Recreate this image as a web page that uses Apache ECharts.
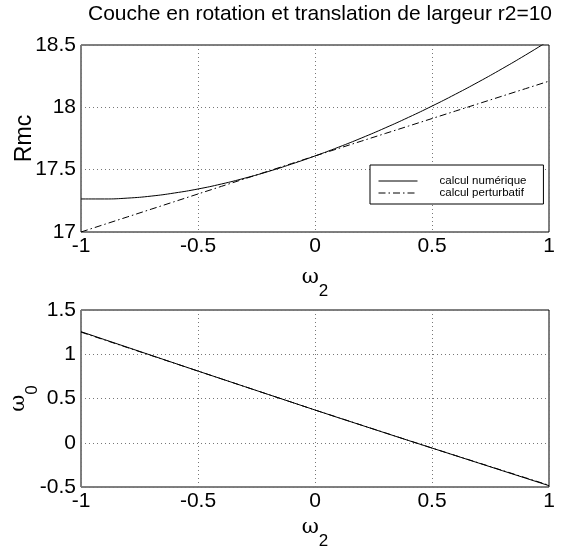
<!DOCTYPE html>
<html>
<head>
<meta charset="utf-8">
<script src="https://cdn.jsdelivr.net/npm/echarts@6/dist/echarts.min.js"></script>
<style>
	html, body { margin: 0; padding: 0; background: #fff; }
	#chart { width: 562px; height: 546px; }
</style>
</head>
<body>
<div id="chart"></div>
<script>
	// omega2 values (x axis, both plots)
	var w2 = [-1, -0.9, -0.8, -0.7, -0.6, -0.5, -0.4, -0.3, -0.2, -0.1, 0, 0.1, 0.2, 0.3, 0.4, 0.5, 0.6, 0.7, 0.8, 0.9, 1];
	// top plot: Rmc
	var rmcNum = [17.265, 17.265, 17.272, 17.288, 17.313, 17.345, 17.385, 17.432, 17.485, 17.545, 17.61, 17.68, 17.755, 17.835, 17.92, 18.01, 18.105, 18.205, 18.31, 18.42, 18.535];
	var rmcPert = [17.0, 17.061, 17.122, 17.183, 17.244, 17.305, 17.366, 17.427, 17.488, 17.549, 17.61, 17.67, 17.73, 17.79, 17.85, 17.91, 17.97, 18.03, 18.09, 18.15, 18.21];
	// bottom plot: omega0
	var w0Num = [1.255, 1.166, 1.077, 0.988, 0.899, 0.81, 0.722, 0.634, 0.546, 0.458, 0.37, 0.283, 0.197, 0.111, 0.025, -0.06, -0.145, -0.23, -0.315, -0.4, -0.485];
	var w0Pert = [1.25, 1.162, 1.074, 0.986, 0.898, 0.81, 0.722, 0.634, 0.546, 0.458, 0.37, 0.284, 0.198, 0.112, 0.026, -0.06, -0.144, -0.228, -0.312, -0.396, -0.48];
	var names = ['calcul numérique', 'calcul perturbatif'];

	function pairs(xs, ys) {
		var out = [];
		for (var i = 0; i < xs.length; i++) {
			out.push([xs[i], ys[i]]);
		}
		return out;
	}

	var font = "'Liberation Sans', Arial, sans-serif";
	var labelStyle = { color: '#000', fontSize: 21, fontFamily: font };
	var gridLine = { show: true, lineStyle: { color: '#777', type: [1, 3], width: 1 } };
	var omegaRich = {
		w: { fontSize: 21, fontFamily: 'DejaVu Serif', color: '#000', verticalAlign: 'top', lineHeight: 22 },
		s: { fontSize: 17, fontFamily: font, color: '#000', verticalAlign: 'top', padding: [16, 0, 0, 0] }
	};
	var dashDot = [7, 3, 1.5, 3];

	function xAxis(idx, gap) {
		return {
			type: 'value', gridIndex: idx, min: -1, max: 1, interval: 0.5,
			name: '{w|ω}{s|2}', nameLocation: 'middle', nameGap: gap, nameMoveOverlap: false,
			nameTextStyle: { rich: omegaRich },
			axisLine: { show: false }, axisTick: { show: false },
			axisLabel: Object.assign({ margin: 4 }, labelStyle),
			splitLine: gridLine
		};
	}

	var option = {
		backgroundColor: '#fff',
		animation: false,
		title: {
			text: 'Couche en rotation et translation de largeur r2=10',
			left: 83, top: -1,
			textStyle: { color: '#000', fontSize: 21, fontWeight: 'normal', fontFamily: font }
		},
		legend: {
			left: 370, top: 165, orient: 'vertical',
			data: names,
			itemWidth: 39, itemHeight: 10, itemGap: 0,
			padding: [10, 17, 5, 8],
			borderColor: '#000', borderWidth: 1, backgroundColor: '#fff',
			itemStyle: { opacity: 0 },
			lineStyle: { width: 1 },
			textStyle: { color: '#000', fontSize: 11.5, fontFamily: font, lineHeight: 12, padding: [0, 0, 0, 17] }
		},
		grid: [
			{ left: 81, right: 13, top: 45, height: 187, show: true, borderColor: '#000', borderWidth: 1, outerBoundsMode: 'none' },
			{ left: 81, right: 13, top: 310, height: 177, show: true, borderColor: '#000', borderWidth: 1, outerBoundsMode: 'none' }
		],
		xAxis: [xAxis(0, 35), xAxis(1, 30)],
		yAxis: [
			{
				type: 'value', gridIndex: 0, min: 17, max: 18.5, interval: 0.5,
				name: 'Rmc', nameLocation: 'middle', nameGap: 45, nameMoveOverlap: false,
				nameTextStyle: { color: '#000', fontSize: 23, fontFamily: font },
				axisLine: { show: false }, axisTick: { show: false },
				axisLabel: Object.assign({ margin: 5 }, labelStyle),
				splitLine: gridLine
			},
			{
				type: 'value', gridIndex: 1, min: -0.5, max: 1.5, interval: 0.5,
				name: '{w|ω}{s|0}', nameLocation: 'middle', nameGap: 40, nameMoveOverlap: false,
				nameTextStyle: { rich: omegaRich },
				axisLine: { show: false }, axisTick: { show: false },
				axisLabel: Object.assign({ margin: 5 }, labelStyle),
				splitLine: gridLine
			}
		],
		series: [
			{ name: names[0], type: 'line', xAxisIndex: 0, yAxisIndex: 0, data: pairs(w2, rmcNum), showSymbol: false, symbol: 'none', smooth: true, lineStyle: { color: '#000', width: 1 }, itemStyle: { color: '#000' } },
			{ name: names[1], type: 'line', xAxisIndex: 0, yAxisIndex: 0, data: pairs(w2, rmcPert), showSymbol: false, symbol: 'none', lineStyle: { color: '#000', width: 1, type: dashDot }, itemStyle: { color: '#000' } },
			{ name: names[0], type: 'line', xAxisIndex: 1, yAxisIndex: 1, data: pairs(w2, w0Num), showSymbol: false, symbol: 'none', lineStyle: { color: '#000', width: 1 }, itemStyle: { color: '#000' } },
			{ name: names[1], type: 'line', xAxisIndex: 1, yAxisIndex: 1, data: pairs(w2, w0Pert), showSymbol: false, symbol: 'none', lineStyle: { color: '#000', width: 1, type: dashDot }, itemStyle: { color: '#000' } }
		]
	};

	var chart = echarts.init(document.getElementById('chart'), null, { renderer: 'canvas' });
	chart.setOption(option);
</script>
</body>
</html>
